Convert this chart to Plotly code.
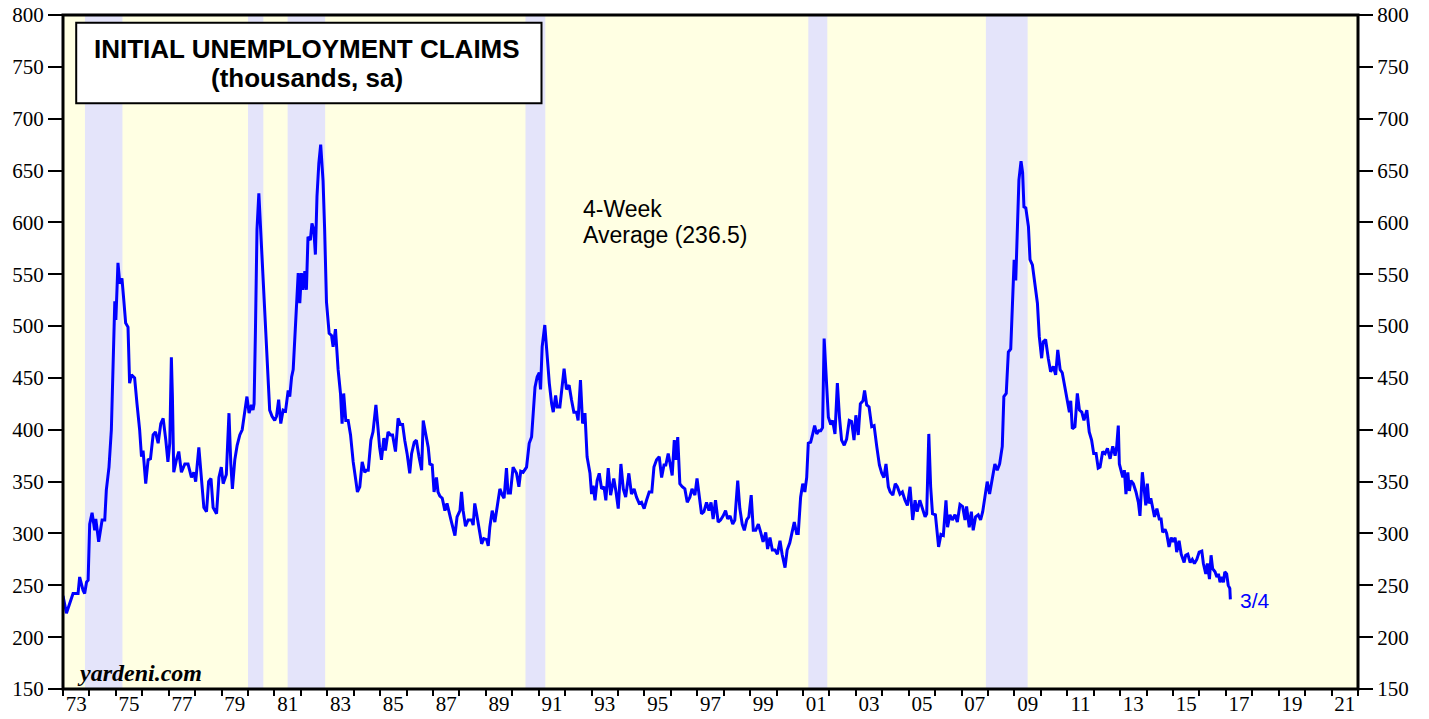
import plotly.graph_objects as go

# ---- data ----
years = [
    1973.00, 1973.13, 1973.38, 1973.57, 1973.63, 1973.76, 1973.82, 1973.89, 1973.95, 1974.01,
    1974.10, 1974.20, 1974.24, 1974.35, 1974.48, 1974.58, 1974.64, 1974.74, 1974.83, 1974.87,
    1974.93, 1974.96, 1975.00, 1975.08, 1975.15, 1975.23, 1975.30, 1975.37, 1975.46, 1975.52,
    1975.59, 1975.71, 1975.80, 1975.90, 1975.97, 1976.03, 1976.13, 1976.22, 1976.31, 1976.41,
    1976.50, 1976.60, 1976.70, 1976.79, 1976.89, 1976.97, 1977.04, 1977.10, 1977.14, 1977.19,
    1977.29, 1977.38, 1977.48, 1977.61, 1977.73, 1977.86, 1977.95, 1978.02, 1978.14, 1978.24,
    1978.33, 1978.43, 1978.51, 1978.60, 1978.68, 1978.81, 1978.90, 1978.99, 1979.06, 1979.18,
    1979.28, 1979.35, 1979.41, 1979.50, 1979.59, 1979.69, 1979.78, 1979.88, 1979.96, 1980.04,
    1980.13, 1980.19, 1980.23, 1980.28, 1980.34, 1980.41, 1980.48, 1980.57, 1980.67, 1980.76,
    1980.82, 1980.91, 1981.01, 1981.08, 1981.16, 1981.24, 1981.33, 1981.42, 1981.52, 1981.58,
    1981.65, 1981.71, 1981.77, 1981.83, 1981.90, 1981.96, 1982.02, 1982.08, 1982.15, 1982.21,
    1982.27, 1982.36, 1982.42, 1982.49, 1982.55, 1982.61, 1982.68, 1982.75, 1982.84, 1982.90,
    1982.97, 1983.07, 1983.16, 1983.22, 1983.31, 1983.41, 1983.50, 1983.56, 1983.62, 1983.70,
    1983.79, 1983.88, 1983.98, 1984.08, 1984.14, 1984.23, 1984.32, 1984.42, 1984.48, 1984.55,
    1984.65, 1984.73, 1984.84, 1984.92, 1984.98, 1985.05, 1985.14, 1985.20, 1985.30, 1985.39,
    1985.47, 1985.58, 1985.68, 1985.77, 1985.85, 1985.93, 1986.02, 1986.12, 1986.19, 1986.29,
    1986.37, 1986.47, 1986.57, 1986.63, 1986.73, 1986.82, 1986.88, 1986.97, 1987.04, 1987.13,
    1987.19, 1987.26, 1987.35, 1987.45, 1987.53, 1987.61, 1987.70, 1987.83, 1987.91, 1988.02,
    1988.08, 1988.14, 1988.23, 1988.33, 1988.46, 1988.52, 1988.58, 1988.65, 1988.75, 1988.84,
    1988.92, 1989.03, 1989.09, 1989.15, 1989.24, 1989.34, 1989.43, 1989.53, 1989.62, 1989.69,
    1989.78, 1989.84, 1989.93, 1990.03, 1990.16, 1990.25, 1990.32, 1990.41, 1990.54, 1990.64,
    1990.73, 1990.79, 1990.86, 1990.94, 1991.02, 1991.07, 1991.13, 1991.23, 1991.32, 1991.40,
    1991.49, 1991.55, 1991.64, 1991.70, 1991.80, 1991.89, 1991.96, 1992.05, 1992.15, 1992.24,
    1992.33, 1992.43, 1992.49, 1992.58, 1992.66, 1992.75, 1992.83, 1992.94, 1993.00, 1993.06,
    1993.13, 1993.21, 1993.29, 1993.38, 1993.47, 1993.54, 1993.63, 1993.72, 1993.84, 1993.92,
    1994.01, 1994.11, 1994.20, 1994.29, 1994.41, 1994.51, 1994.61, 1994.70, 1994.80, 1994.89,
    1994.99, 1995.08, 1995.18, 1995.28, 1995.36, 1995.46, 1995.56, 1995.65, 1995.74, 1995.81,
    1995.90, 1995.96, 1996.05, 1996.13, 1996.19, 1996.26, 1996.34, 1996.43, 1996.53, 1996.62,
    1996.72, 1996.80, 1996.91, 1996.99, 1997.07, 1997.16, 1997.25, 1997.35, 1997.44, 1997.52,
    1997.60, 1997.69, 1997.79, 1997.88, 1997.98, 1998.07, 1998.15, 1998.24, 1998.34, 1998.42,
    1998.53, 1998.61, 1998.70, 1998.78, 1998.87, 1998.95, 1999.04, 1999.12, 1999.21, 1999.31,
    1999.40, 1999.49, 1999.59, 1999.66, 1999.75, 1999.84, 1999.94, 2000.03, 2000.13, 2000.21,
    2000.32, 2000.40, 2000.50, 2000.59, 2000.67, 2000.76, 2000.82, 2000.91, 2000.99, 2001.07,
    2001.14, 2001.20, 2001.29, 2001.35, 2001.44, 2001.52, 2001.60, 2001.67, 2001.74, 2001.80,
    2001.89, 2001.96, 2002.05, 2002.12, 2002.21, 2002.30, 2002.38, 2002.46, 2002.56, 2002.65,
    2002.75, 2002.84, 2002.93, 2003.00, 2003.09, 2003.17, 2003.27, 2003.33, 2003.41, 2003.50,
    2003.60, 2003.69, 2003.79, 2003.89, 2003.98, 2004.06, 2004.14, 2004.23, 2004.30, 2004.40,
    2004.49, 2004.57, 2004.67, 2004.76, 2004.86, 2004.95, 2005.05, 2005.15, 2005.24, 2005.32,
    2005.42, 2005.51, 2005.62, 2005.68, 2005.76, 2005.83, 2005.90, 2006.01, 2006.07, 2006.13,
    2006.22, 2006.31, 2006.41, 2006.47, 2006.56, 2006.65, 2006.75, 2006.84, 2006.94, 2007.04,
    2007.13, 2007.19, 2007.29, 2007.37, 2007.44, 2007.53, 2007.63, 2007.72, 2007.80, 2007.89,
    2007.97, 2008.06, 2008.15, 2008.26, 2008.35, 2008.44, 2008.54, 2008.60, 2008.69, 2008.77,
    2008.86, 2008.94, 2008.99, 2009.05, 2009.11, 2009.17, 2009.25, 2009.31, 2009.36, 2009.43,
    2009.53, 2009.59, 2009.68, 2009.78, 2009.87, 2009.94, 2010.03, 2010.09, 2010.18, 2010.28,
    2010.37, 2010.47, 2010.56, 2010.64, 2010.73, 2010.81, 2010.92, 2011.00, 2011.08, 2011.13,
    2011.19, 2011.29, 2011.38, 2011.46, 2011.55, 2011.63, 2011.74, 2011.83, 2011.92, 2012.00,
    2012.09, 2012.17, 2012.24, 2012.34, 2012.43, 2012.52, 2012.62, 2012.72, 2012.81, 2012.87,
    2012.93, 2012.97, 2013.04, 2013.10, 2013.16, 2013.22, 2013.29, 2013.35, 2013.41, 2013.50,
    2013.60, 2013.69, 2013.75, 2013.84, 2013.90, 2013.97, 2014.03, 2014.09, 2014.16, 2014.23,
    2014.30, 2014.39, 2014.48, 2014.55, 2014.61, 2014.70, 2014.76, 2014.85, 2014.93, 2015.01,
    2015.08, 2015.14, 2015.23, 2015.31, 2015.42, 2015.48, 2015.56, 2015.65, 2015.73, 2015.81,
    2015.90, 2015.99, 2016.09, 2016.15, 2016.24, 2016.30, 2016.38, 2016.44, 2016.50, 2016.59,
    2016.66, 2016.72, 2016.78, 2016.85, 2016.91, 2016.96, 2017.03, 2017.09, 2017.15, 2017.17,
]

claims = [
    240, 223, 242, 242, 258, 245, 242, 253, 255, 309,
    320, 303, 314, 292, 313, 313, 342, 364, 400, 438,
    506, 524, 506, 561, 541, 546, 525, 503, 499, 445,
    453, 450, 425, 400, 374, 380, 348, 371, 372, 395,
    398, 387, 406, 411, 390, 369, 387, 470, 432, 359,
    371, 379, 359, 367, 367, 354, 359, 350, 383, 354,
    325, 321, 350, 353, 325, 319, 354, 364, 348, 357,
    416, 367, 343, 371, 385, 395, 400, 418, 432, 416,
    424, 419, 425, 493, 593, 628, 593, 554, 503, 458,
    419, 413, 409, 413, 429, 406, 419, 418, 438, 432,
    451, 458, 487, 506, 551, 522, 551, 535, 553, 535,
    586, 583, 599, 593, 569, 625, 657, 675, 640, 593,
    523, 493, 491, 480, 497, 458, 435, 406, 435, 409,
    409, 395, 369, 351, 340, 345, 369, 359, 361, 361,
    390, 398, 424, 401, 383, 371, 392, 380, 398, 395,
    395, 379, 411, 405, 405, 390, 377, 358, 377, 388,
    390, 374, 361, 409, 396, 383, 367, 366, 340, 354,
    340, 336, 334, 322, 329, 319, 311, 298, 316, 322,
    340, 322, 307, 313, 313, 308, 329, 319, 305, 290,
    295, 294, 288, 306, 322, 311, 326, 343, 337, 334,
    363, 339, 339, 364, 358, 345, 360, 359, 364, 387,
    393, 416, 441, 451, 455, 439, 480, 501, 470, 445,
    425, 417, 433, 422, 422, 441, 459, 439, 443, 429,
    417, 417, 409, 448, 406, 416, 374, 358, 338, 346,
    332, 351, 358, 343, 345, 332, 363, 337, 353, 341,
    324, 367, 343, 335, 358, 338, 343, 335, 329, 330,
    324, 332, 340, 340, 364, 371, 374, 354, 366, 366,
    377, 369, 356, 390, 371, 393, 348, 345, 343, 330,
    335, 343, 337, 353, 337, 319, 321, 330, 322, 330,
    314, 332, 311, 313, 317, 322, 314, 317, 309, 313,
    351, 324, 309, 303, 313, 316, 337, 303, 303, 309,
    301, 292, 301, 285, 296, 284, 284, 280, 293, 280,
    267, 284, 291, 303, 311, 300, 300, 335, 348, 340,
    354, 387, 388, 394, 404, 396, 399, 399, 402, 488,
    446, 412, 405, 409, 396, 445, 412, 390, 385, 391,
    409, 408, 390, 414, 395, 425, 428, 438, 424, 422,
    403, 404, 384, 366, 358, 354, 367, 345, 340, 337,
    348, 345, 338, 340, 332, 327, 345, 313, 332, 321,
    332, 324, 316, 319, 396, 345, 319, 318, 303, 287,
    299, 298, 332, 306, 318, 313, 318, 311, 328, 326,
    313, 326, 306, 321, 303, 316, 318, 313, 321, 338,
    350, 338, 350, 367, 361, 367, 384, 432, 435, 475,
    478, 535, 564, 544, 599, 641, 659, 648, 615, 614,
    596, 564, 559, 538, 522, 490, 469, 485, 487, 469,
    456, 461, 453, 477, 458, 455, 438, 425, 417, 428,
    401, 403, 435, 419, 417, 409, 419, 398, 390, 377,
    377, 363, 364, 379, 377, 382, 372, 384, 375, 384,
    404, 367, 359, 354, 361, 338, 359, 341, 351, 348,
    340, 330, 317, 359, 345, 327, 348, 329, 334, 325,
    316, 324, 314, 314, 301, 304, 300, 287, 296, 292,
    296, 282, 293, 280, 272, 279, 280, 272, 275, 271,
    275, 282, 283, 271, 261, 271, 256, 279, 266, 263,
    258, 261, 253, 258, 253, 263, 261, 250, 247, 236.5,
]

assert len(years) == len(claims)

recession_start = [1973.83, 1980.00, 1981.50, 1990.50, 2001.20, 2007.92]
recession_end = [1975.25, 1980.58, 1982.92, 1991.25, 2001.92, 2009.50]

label_years = list(range(1973, 2022, 2))
tick_labels = [f"{y % 100:02d}" for y in label_years]
y_ticks = list(range(150, 801, 50))

title_line1 = "INITIAL UNEMPLOYMENT CLAIMS"
title_line2 = "(thousands, sa)"
note_line1 = "4-Week"
note_line2 = "Average (236.5)"
last_label = "3/4"
source = "yardeni.com"

X_RANGE = [1973, 2022]
Y_RANGE = [150, 800]

# ---- figure ----
fig = go.Figure()

fig.add_trace(go.Scatter(
    x=years, y=claims, mode="lines",
    line=dict(color="#0000FF", width=3),
    hoverinfo="x+y", showlegend=False,
))
# invisible trace that carries the secondary (tick / right) axes
fig.add_trace(go.Scatter(
    x=years, y=claims, mode="lines", xaxis="x2", yaxis="y2",
    line=dict(color="rgba(0,0,0,0)", width=0),
    hoverinfo="skip", showlegend=False,
))

shapes = []
for s, e in zip(recession_start, recession_end):
    shapes.append(dict(type="rect", xref="x", yref="paper", x0=s, x1=e, y0=0, y1=1,
                       fillcolor="#E4E4FA", line=dict(width=0), layer="below"))
# frame
shapes.append(dict(type="rect", xref="paper", yref="paper", x0=0, x1=1, y0=0, y1=1,
                   line=dict(color="black", width=3), fillcolor="rgba(0,0,0,0)", layer="above"))
# title box
shapes.append(dict(type="rect", xref="paper", yref="paper",
                   x0=0.0102, x1=0.3695, y0=0.869, y1=0.9885,
                   line=dict(color="black", width=2), fillcolor="white", layer="above"))

serif = "Liberation Serif, Times New Roman, serif"
sans = "Liberation Sans, Arial, Helvetica, sans-serif"

annotations = [
    dict(text=f"<b>{title_line1}</b>", xref="paper", yref="paper", x=0.1885, y=0.9496,
         showarrow=False, font=dict(family=sans, size=26, color="black"),
         xanchor="center", yanchor="middle"),
    dict(text=f"<b>{title_line2}</b>", xref="paper", yref="paper", x=0.1885, y=0.9065,
         showarrow=False, font=dict(family=sans, size=26, color="black"),
         xanchor="center", yanchor="middle"),
    dict(text=note_line1, xref="x", yref="y", x=1992.6, y=613,
         showarrow=False, font=dict(family=sans, size=23, color="black"),
         xanchor="left", yanchor="middle"),
    dict(text=note_line2, xref="x", yref="y", x=1992.6, y=588,
         showarrow=False, font=dict(family=sans, size=23, color="black"),
         xanchor="left", yanchor="middle"),
    dict(text=last_label, xref="x", yref="y", x=2017.45, y=235,
         showarrow=False, font=dict(family=sans, size=21, color="#0000FF"),
         xanchor="left", yanchor="middle"),
    dict(text=f"<b><i>{source}</i></b>", xref="paper", yref="paper", x=0.009, y=0.024,
         showarrow=False, font=dict(family=serif, size=24, color="black"),
         xanchor="left", yanchor="middle"),
]

axis_font = dict(family=serif, size=21, color="black")

fig.update_layout(
    width=1429, height=719,
    margin=dict(l=63, r=71, t=15, b=30, pad=0),
    paper_bgcolor="white",
    plot_bgcolor="#FFFFE3",
    shapes=shapes,
    annotations=annotations,
    showlegend=False,
    xaxis=dict(
        range=X_RANGE, tickmode="array", tickvals=[y + 0.5 for y in label_years],
        ticktext=tick_labels, ticks="",
        showgrid=False, zeroline=False, showline=False, tickfont=axis_font,
        automargin=False,
    ),
    xaxis2=dict(
        range=X_RANGE, overlaying="x", anchor="y2", side="bottom",
        tickmode="array", tickvals=list(range(1973, 2023)),
        ticks="outside", ticklen=6, tickwidth=2, tickcolor="black",
        showticklabels=False, showgrid=False, zeroline=False, showline=False,
        automargin=False,
    ),
    yaxis=dict(
        range=Y_RANGE, tickmode="array", tickvals=y_ticks,
        ticks="outside", ticklen=14, tickwidth=2, tickcolor="black",
        showgrid=False, zeroline=False, showline=False, tickfont=axis_font,
        automargin=False,
    ),
    yaxis2=dict(
        range=Y_RANGE, overlaying="y", side="right", anchor="x2",
        tickmode="array", tickvals=y_ticks,
        ticks="outside", ticklen=14, tickwidth=2, tickcolor="black",
        showgrid=False, zeroline=False, showline=False, tickfont=axis_font,
        automargin=False,
    ),
)

fig.write_html(
    "out.html",
    config={"displayModeBar": False},
    post_script="document.body.style.margin='0';document.body.style.overflow='hidden';",
)
